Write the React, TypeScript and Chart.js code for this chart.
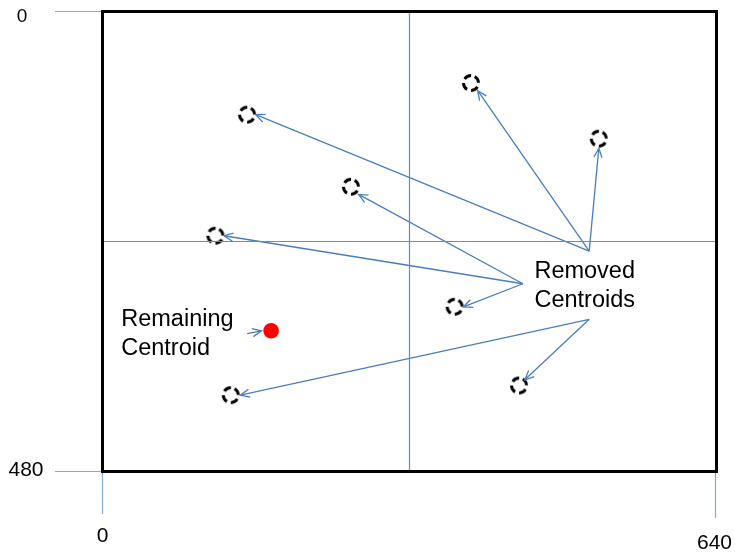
import React, { useEffect, useRef } from "react";
import { Chart, registerables } from "chart.js";

Chart.register(...registerables);

// Removed centroids (dashed circles), in image coordinates (x 0..640, y 0..480 top-down)
const removedX = [151, 384, 517, 259, 118, 367, 434, 134];
const removedY = [108, 75, 133, 183, 234, 308, 390, 400];

// Remaining centroid (red dot)
const remainingX = [176];
const remainingY = [333];

// Arrows: from -> to
const arrowFromX = [507, 507, 507, 438, 438, 438, 507, 507, 151];
const arrowFromY = [250, 250, 250, 284, 284, 284, 321, 321, 336];
const arrowToX = [160, 391, 517, 267, 127, 376, 440, 144, 166];
const arrowToY = [108, 83, 143, 191, 234, 308, 384, 400, 333];

// Quadrant split lines
const splitX = [320];
const splitY = [240];

// Axis extent and tick labels
const xMax = 640;
const yMax = 480;
const xTickValues = [0, 640];
const yTickValues = [0, 480];

// Text notes: lines, anchor (x, first baseline y) in data units
const noteLines = [["Remaining", "Centroid"], ["Removed", "Centroids"]];
const noteX = [20, 450];
const noteY = [328, 278];

const ARROW_BLUE = "#4a7ebb";
const SPLIT_BLUE = "#5b8dd3";
const TICK_BLUE = "#86a8da";
const FONT = '"Liberation Sans", Arial, sans-serif';

function makeDashedCircle(): HTMLCanvasElement {
  const c = document.createElement("canvas");
  c.width = 22;
  c.height = 22;
  const g = c.getContext("2d")!;
  g.strokeStyle = "#000";
  g.lineWidth = 3;
  g.setLineDash([7.5, 4.2]);
  g.beginPath();
  g.arc(11, 11, 7.5, -Math.PI / 3, -Math.PI / 3 + Math.PI * 2);
  g.stroke();
  return c;
}

export default function App() {
  const ref = useRef<HTMLCanvasElement | null>(null);

  useEffect(() => {
    const canvas = ref.current;
    if (!canvas) return;

    const datasets: any[] = [];

    // split lines
    splitX.forEach((v) => {
      datasets.push({
        data: [{ x: v, y: 0 }, { x: v, y: yMax }],
        showLine: true,
        borderColor: SPLIT_BLUE,
        borderWidth: 1.2,
        pointRadius: 0,
      });
    });
    splitY.forEach((v) => {
      datasets.push({
        data: [{ x: 0, y: v }, { x: xMax, y: v }],
        showLine: true,
        borderColor: SPLIT_BLUE,
        borderWidth: 1.2,
        pointRadius: 0,
      });
    });

    // arrows
    arrowFromX.forEach((fx, i) => {
      datasets.push({
        data: [
          { x: fx, y: arrowFromY[i] },
          { x: arrowToX[i], y: arrowToY[i] },
        ],
        showLine: true,
        borderColor: ARROW_BLUE,
        borderWidth: 1.3,
        pointRadius: 0,
        isArrow: true,
      });
    });

    // removed centroids
    datasets.push({
      data: removedX.map((x, i) => ({ x, y: removedY[i] })),
      showLine: false,
      pointStyle: makeDashedCircle(),
      pointRadius: 9,
    });

    // remaining centroid
    datasets.push({
      data: remainingX.map((x, i) => ({ x, y: remainingY[i] })),
      showLine: false,
      pointStyle: "circle",
      pointRadius: 7.8,
      backgroundColor: "#ff0000",
      borderColor: "#ff0000",
      borderWidth: 0,
    });

    const decor = {
      id: "decor",
      afterDatasetsDraw(chart: any) {
        const ctx = chart.ctx;
        const xs = chart.scales.x;
        const ys = chart.scales.y;
        ctx.save();
        chart.data.datasets.forEach((ds: any) => {
          if (!ds.isArrow) return;
          const a = ds.data[0];
          const b = ds.data[1];
          const x1 = xs.getPixelForValue(a.x);
          const y1 = ys.getPixelForValue(a.y);
          const x2 = xs.getPixelForValue(b.x);
          const y2 = ys.getPixelForValue(b.y);
          const ang = Math.atan2(y2 - y1, x2 - x1);
          const len = 10;
          const spread = 0.42;
          ctx.strokeStyle = ARROW_BLUE;
          ctx.lineWidth = 1.3;
          ctx.beginPath();
          ctx.moveTo(x2 - len * Math.cos(ang - spread), y2 - len * Math.sin(ang - spread));
          ctx.lineTo(x2, y2);
          ctx.lineTo(x2 - len * Math.cos(ang + spread), y2 - len * Math.sin(ang + spread));
          ctx.stroke();
        });
        ctx.restore();
      },
      afterDraw(chart: any) {
        const ctx = chart.ctx;
        const xs = chart.scales.x;
        const ys = chart.scales.y;
        const { left, right, top, bottom } = chart.chartArea;
        ctx.save();

        // tick lines
        ctx.strokeStyle = TICK_BLUE;
        ctx.lineWidth = 1.2;
        yTickValues.forEach((v) => {
          const py = ys.getPixelForValue(v) + (v === 0 ? 0.5 : -0.5);
          ctx.beginPath();
          ctx.moveTo(left - 47, py);
          ctx.lineTo(left, py);
          ctx.stroke();
        });
        xTickValues.forEach((v) => {
          const px = xs.getPixelForValue(v) + (v === 0 ? 0.5 : -1.5);
          ctx.beginPath();
          ctx.moveTo(px, bottom);
          ctx.lineTo(px, bottom + (v === 0 ? 42 : 46));
          ctx.stroke();
        });

        // frame
        ctx.strokeStyle = "#000";
        ctx.lineWidth = 3;
        ctx.strokeRect(left + 0.5, top + 0.5, right - left - 1, bottom - top - 1);

        // tick labels
        ctx.fillStyle = "#000";
        ctx.textAlign = "center";
        ctx.textBaseline = "middle";
        yTickValues.forEach((v) => {
          const py = ys.getPixelForValue(v);
          ctx.font = `${v === 0 ? 19 : 21}px ${FONT}`;
          ctx.fillText(String(v), v === 0 ? left - 80 : left - 76, v === 0 ? py + 6 : py - 2);
        });
        xTickValues.forEach((v) => {
          const px = xs.getPixelForValue(v);
          ctx.font = `21px ${FONT}`;
          ctx.fillText(String(v), v === 0 ? px + 0.5 : px - 2.5, v === 0 ? bottom + 64 : bottom + 71);
        });

        // notes
        ctx.textAlign = "left";
        ctx.textBaseline = "alphabetic";
        ctx.font = `23.5px ${FONT}`;
        noteLines.forEach((lines, i) => {
          const px = xs.getPixelForValue(noteX[i]);
          const py = ys.getPixelForValue(noteY[i]);
          lines.forEach((t, j) => ctx.fillText(t, px, py + j * 29));
        });
        ctx.restore();
      },
    };

    const chart = new Chart(canvas, {
      type: "scatter",
      data: { datasets },
      options: {
        animation: false,
        responsive: false,
        devicePixelRatio: 1,
        layout: { padding: { left: 102, top: 11, right: 18, bottom: 83 } },
        scales: {
          x: { type: "linear", min: 0, max: xMax, display: false },
          y: { type: "linear", min: 0, max: yMax, reverse: true, display: false },
        },
        plugins: {
          legend: { display: false },
          tooltip: { enabled: false },
        },
        events: [],
      } as any,
      plugins: [decor],
    });
    return () => chart.destroy();
  }, []);

  return (
    <div style={{ position: "fixed", left: 0, top: 0, width: 735, height: 555, background: "#fff" }}>
      <canvas ref={ref} width={735} height={555} />
    </div>
  );
}
